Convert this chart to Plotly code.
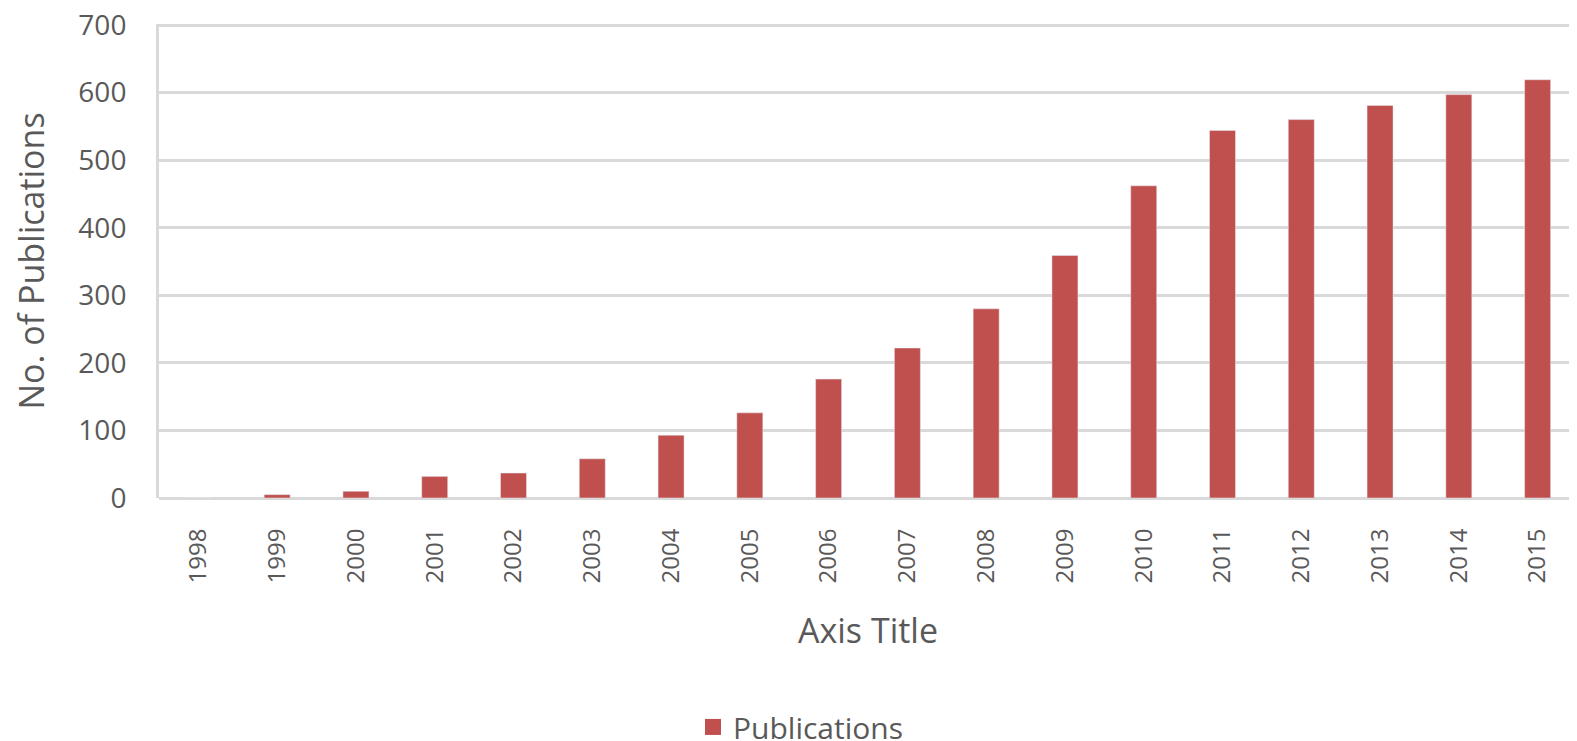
import plotly.graph_objects as go

years = ["1998", "1999", "2000", "2001", "2002", "2003", "2004", "2005", "2006",
         "2007", "2008", "2009", "2010", "2011", "2012", "2013", "2014", "2015"]
publications = [0, 5, 10, 32, 37, 58, 93, 126, 176, 222, 280, 359, 462, 544, 560, 581, 597, 619]

y_ticks = list(range(0, 701, 100))

BAR_COLOR = "#C0504D"
GRID = "#D9D9D9"
TEXT = "#595959"
FONT = "Open Sans"

fig = go.Figure()
fig.add_trace(go.Bar(x=years, y=publications, name="Publications",
                     marker_color=BAR_COLOR, width=0.33, showlegend=False))
# legend entry with a larger square swatch
fig.add_trace(go.Scatter(x=[None], y=[None], mode="markers", name="Publications",
                         marker=dict(symbol="square", size=21, color=BAR_COLOR),
                         showlegend=True, hoverinfo="skip"))

fig.update_layout(
    width=1569, height=733,
    margin=dict(l=151, r=0, t=16, b=243, autoexpand=False),
    plot_bgcolor="white", paper_bgcolor="white",
    font=dict(family=FONT, color=TEXT, size=28),
    showlegend=True,
    legend=dict(orientation="h", x=0.4524, xanchor="center", y=-0.483, yanchor="middle",
                font=dict(size=30, color=TEXT, family=FONT), itemsizing="trace"),
)
fig.update_xaxes(
    type="category", categoryarray=years, tickangle=-90, ticks="outside", ticklen=20,
    tickcolor="rgba(0,0,0,0)",
    tickfont=dict(size=24, color=TEXT, family=FONT),
    showgrid=False, showline=False, automargin=False,
    title=dict(text="Axis Title", font=dict(size=34, color=TEXT, family=FONT), standoff=36),
)
fig.update_yaxes(
    range=[0, 701.5], tickvals=y_ticks, ticks="outside", ticklen=24, tickcolor="rgba(0,0,0,0)",
    tickfont=dict(size=28, color=TEXT, family=FONT), ticklabeloverflow="allow",
    showgrid=True, gridcolor=GRID, gridwidth=3,
    zeroline=True, zerolinecolor=GRID, zerolinewidth=3,
    showline=True, linecolor=GRID, linewidth=3, automargin=False,
    title=dict(text="No. of Publications", font=dict(size=34, color=TEXT, family=FONT), standoff=28),
)

fig.write_html("out.html")
